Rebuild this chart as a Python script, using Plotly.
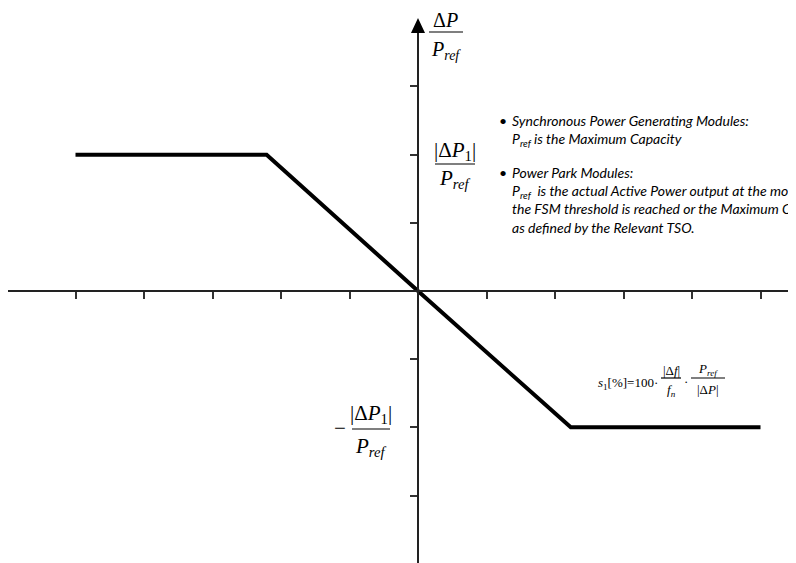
import plotly.graph_objects as go

# droop characteristic, in tick units
delta_f = [-5, -2.21, 0, 2.23, 5]
delta_p = [2, 2, 0, -2, -2]
x_ticks = [-5, -4, -3, -2, -1, 1, 2, 3, 4, 5]
y_ticks = [-3, -2, -1, 1, 2, 3]

W, H = 796, 563
OFF = 8                    # page body margin
FW, FH = W - OFF, H - OFF  # figure size
X0, Y0 = 418, 291          # pixel position of the origin in the page
SX, SY = 68.5, 68.17       # pixels per tick
X_LEFT, Y_TOP = OFF, 25    # where the axis lines start


def px(x):
    return (x - OFF) / FW


def py(y):
    return 1 - (y - OFF) / FH


fig = go.Figure()
fig.add_trace(
    go.Scatter(
        x=delta_f,
        y=delta_p,
        mode="lines",
        line=dict(color="black", width=4),
        hoverinfo="skip",
    )
)

axis_common = dict(
    showgrid=False,
    zeroline=False,
    showticklabels=False,
    ticks="outside",
    ticklen=7,
    tickwidth=1.5,
    tickcolor="#333",
    showline=True,
    linecolor="#222",
    linewidth=2,
    fixedrange=True,
)

fig.update_layout(
    width=FW,
    height=FH,
    margin=dict(l=0, r=0, t=0, b=0),
    paper_bgcolor="white",
    plot_bgcolor="white",
    showlegend=False,
    xaxis=dict(
        axis_common,
        domain=[px(X_LEFT), 1],
        range=[(X_LEFT - X0) / SX, (W - X0) / SX],
        tickvals=x_ticks,
        anchor="free",
        position=py(Y0),
    ),
    yaxis=dict(
        axis_common,
        domain=[0, py(Y_TOP)],
        range=[-(H - Y0) / SY, (Y0 - Y_TOP) / SY],
        tickvals=y_ticks,
        anchor="free",
        position=px(X0),
    ),
)

# arrow head on the vertical axis
fig.add_shape(
    type="path",
    xref="paper",
    yref="paper",
    path=f"M {px(X0)} {py(18)} L {px(X0 - 7)} {py(33)} L {px(X0 + 7)} {py(33)} Z",
    fillcolor="black",
    line=dict(color="black", width=0),
)

serif = dict(family="Liberation Serif, Times New Roman, serif", color="black")


def fraction(xc, y_bar, half, top, bottom, size, gap_top, gap_bot):
    fig.add_shape(
        type="line",
        xref="paper",
        yref="paper",
        x0=px(xc - half),
        x1=px(xc + half),
        y0=py(y_bar),
        y1=py(y_bar),
        line=dict(color="black", width=1.2),
    )
    fig.add_annotation(
        x=px(xc), y=py(y_bar - gap_top), xref="paper", yref="paper",
        text=top, showarrow=False, xanchor="center", yanchor="middle",
        font=dict(serif, size=size),
    )
    fig.add_annotation(
        x=px(xc), y=py(y_bar + gap_bot), xref="paper", yref="paper",
        text=bottom, showarrow=False, xanchor="center", yanchor="middle",
        font=dict(serif, size=size),
    )


dp = "Δ<i>P</i>"
pref = "<i>P</i><sub><i>ref</i></sub>"
dp1 = "|Δ<i>P</i><sub>1</sub>|"

fraction(446, 32, 17, dp, pref, 20, 12, 18)
fraction(455, 164, 20, dp1, pref, 21, 13, 15)
fraction(371, 429, 19, dp1, pref, 21, 15, 18)
fig.add_annotation(
    x=px(340), y=py(428), xref="paper", yref="paper",
    text="−", showarrow=False, xanchor="center", yanchor="middle",
    font=dict(serif, size=21),
)

# droop formula
eq_size = 13
fig.add_annotation(
    x=px(596), y=py(383), xref="paper", yref="paper",
    text="<i>s</i><sub>1</sub>[%]=100·", showarrow=False,
    xanchor="left", yanchor="middle", font=dict(serif, size=eq_size),
)
fraction(671, 378, 10, "|Δ<i>f</i>|", "<i>f</i><sub><i>n</i></sub>", eq_size, 8, 12)
fig.add_annotation(
    x=px(686), y=py(381), xref="paper", yref="paper",
    text="·", showarrow=False, xanchor="center", yanchor="middle",
    font=dict(serif, size=eq_size),
)
fraction(708, 378, 17, "<i>P</i><sub><i>ref</i></sub>", "|Δ<i>P</i>|", eq_size, 9, 11)

# notes
note_font = dict(family="Lato, Open Sans, sans-serif", size=14, color="black")
notes = [
    (110, "Synchronous Power Generating Modules:<br>"
          "P<sub>ref</sub> is the Maximum Capacity"),
    (162, "Power Park Modules:<br>"
          "P<sub>ref</sub>  is the actual Active Power output at the moment<br>"
          "the FSM threshold is reached or the Maximum Capacity<br>"
          "as defined by the Relevant TSO."),
]
for y_top, txt in notes:
    fig.add_annotation(
        x=px(497), y=py(y_top), xref="paper", yref="paper",
        text="•", showarrow=False, xanchor="left", yanchor="top",
        font=note_font,
    )
    fig.add_annotation(
        x=px(510), y=py(y_top), xref="paper", yref="paper",
        text=f"<i>{txt}</i>", showarrow=False, xanchor="left", yanchor="top",
        align="left", font=note_font,
    )

fig.write_html("out.html")
